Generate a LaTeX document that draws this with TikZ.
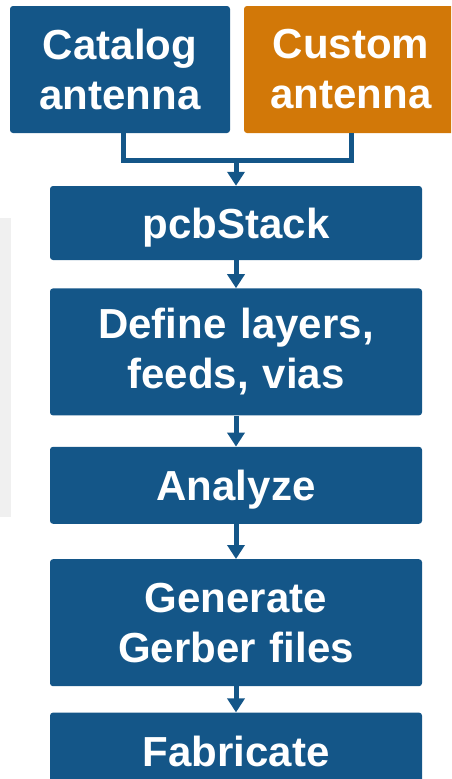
\documentclass[tikz,border=0pt]{standalone}
\usepackage{fontspec}
\setmainfont{Liberation Sans}
\usetikzlibrary{calc, positioning, arrows.meta}

\definecolor{flowblue}{RGB}{20,86,136}
\definecolor{floworange}{RGB}{210,120,8}
\definecolor{panelgray}{RGB}{240,240,240}

\begin{document}
\begin{tikzpicture}[x=1pt, y=-1pt,
    box/.style={fill=flowblue, rounded corners=3pt, text=white, inner sep=0pt,
        align=center, text width=360pt, minimum width=372pt,
        font=\bfseries\fontsize{42}{50}\selectfont},
    onebox/.style={box, text height=31pt, text depth=0pt},
    link/.style={draw=flowblue, line width=5pt},
    flow/.style={link, -{Triangle[width=17pt,length=14pt]}}]
    \clip (0,0) rectangle (451,779);
    \fill[panelgray] (0,218) rectangle (11,517);

    % two ways in
    \node[box, text width=200pt, minimum width=220pt, minimum height=127pt] (catalog) at (120,69.5) {Catalog\\antenna};
    \node[box, fill=floworange, text width=200pt, minimum width=214pt, minimum height=127pt] (custom) at (351,69.5) {Custom\\antenna};

    % main flow
    \node[onebox, minimum height=74pt] (stack) at (236,223) {pcbStack};
    \node[box, minimum height=127pt, below=28pt of stack] (layers) {Define layers,\\feeds, vias};
    \node[onebox, minimum height=77pt, below=31pt of layers] (analyze) {Analyze};
    \node[box, minimum height=127pt, below=35pt of analyze] (gerber) {Generate\\Gerber files};
    \node[onebox, minimum height=77pt, below=26pt of gerber] (fab) {Fabricate};

    \coordinate (join) at (236,160);
    \draw[link] ([xshift=3pt]catalog.south) |- (join) -| (custom.south);
    \draw[flow] (join) -- (stack);
    \draw[flow] (stack) -- (layers);
    \draw[flow] (layers) -- (analyze);
    \draw[flow] (analyze) -- (gerber);
    \draw[flow] (gerber) -- (fab);
\end{tikzpicture}
\end{document}
